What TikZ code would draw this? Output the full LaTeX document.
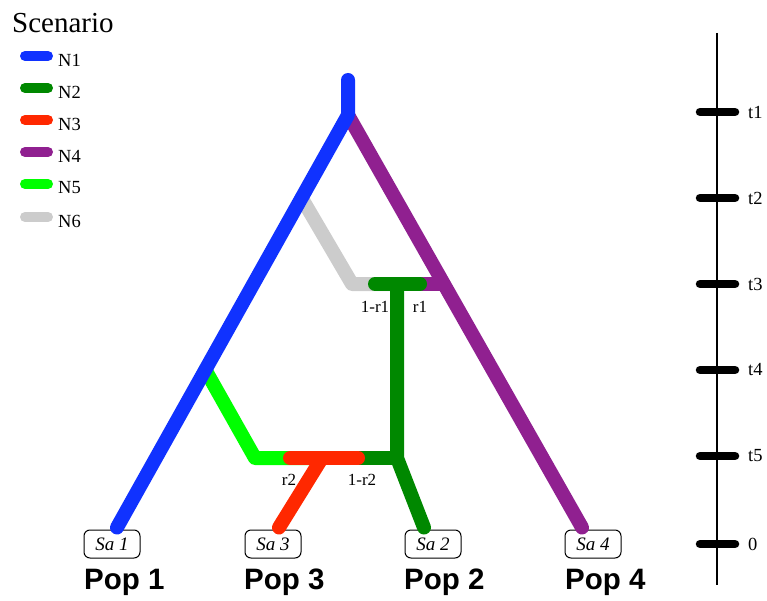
\documentclass[tikz,border=0pt]{standalone}
\usepackage{fontspec}
\setmainfont{Liberation Serif}
\newfontfamily\popfont{Liberation Sans}
\usepackage{tikz}
\usetikzlibrary{calc}
\definecolor{nblue}{RGB}{16,50,255}
\definecolor{ngreen}{RGB}{0,136,0}
\definecolor{nred}{RGB}{255,40,0}
\definecolor{npurple}{RGB}{144,32,144}
\definecolor{nlime}{RGB}{0,255,0}
\definecolor{ngrey}{RGB}{204,204,204}
\tikzset{
  branch/.style={line width=14pt, line cap=round, line join=round},
  legend line/.style={line width=10pt, line cap=round},
  legend text/.style={anchor=west, inner sep=0pt, font=\fontsize{18.5}{21}\selectfont},
  time tick/.style={line width=8.5pt, line cap=round},
  time label/.style={anchor=west, inner sep=0pt, font=\fontsize{18.5}{21}\selectfont},
  sample/.style={draw, line width=1pt, rounded corners=6pt, minimum width=56pt,
    minimum height=28pt, inner sep=0pt, font=\fontsize{19}{22}\selectfont\itshape},
  pop/.style={anchor=base west, inner sep=0pt,
    font=\popfont\bfseries\fontsize{29.5}{33}\selectfont},
  rate/.style={inner sep=0pt, font=\fontsize{17}{20}\selectfont},
}
\begin{document}
\begin{tikzpicture}[x=1pt, y=-1pt]
  \useasboundingbox (0,0) rectangle (767,601);

  % legend
  \node[anchor=base west, inner sep=0pt, font=\fontsize{29}{33}\selectfont] (title) at (12,33) {Scenario};
  \draw[legend line, nblue]   (25,56)  -- (48,56);  \node[legend text] (lN1) at (58,60)  {N1};
  \draw[legend line, ngreen]  (25,88)  -- (48,88);  \node[legend text] (lN2) at (58,92)  {N2};
  \draw[legend line, nred]    (25,120) -- (48,120); \node[legend text] (lN3) at (58,124) {N3};
  \draw[legend line, npurple] (25,152) -- (48,152); \node[legend text] (lN4) at (58,156) {N4};
  \draw[legend line, nlime]   (25,184) -- (48,184); \node[legend text] (lN5) at (58,188) {N5};
  \draw[legend line, ngrey]   (25,217) -- (48,217); \node[legend text] (lN6) at (58,221) {N6};

  % samples and populations
  \node[sample] (sa1) at (112,544) {Sa 1};
  \node[sample] (sa3) at (273,544) {Sa 3};
  \node[sample] (sa2) at (433,544) {Sa 2};
  \node[sample] (sa4) at (593,544) {Sa 4};
  \node[pop] (pop1) at (84,589)  {Pop 1};
  \node[pop] (pop3) at (244,589) {Pop 3};
  \node[pop] (pop2) at (404,589) {Pop 2};
  \node[pop] (pop4) at (565,589) {Pop 4};

  % tree points
  \coordinate (root)  at (348,80);
  \coordinate (split) at (348,115);
  \coordinate (end1)  at ($(sa1.north)+(5,-2)$);
  \coordinate (end3)  at ($(sa3.north)+(6,-2)$);
  \coordinate (end2)  at ($(sa2.north)+(-9,-2)$);
  \coordinate (end4)  at ($(sa4.north)+(-11,-2)$);
  \coordinate (b2)    at (301.6,198);
  \coordinate (b4)    at (205.4,370);
  \coordinate (p3)    at (443.3,284);
  \coordinate (g3)    at (352,284);
  \coordinate (adm1)  at (397,284);
  \coordinate (l5)    at (255,458);
  \coordinate (adm2)  at (397,458);
  \coordinate (r5)    at (322,458);

  % side branches, drawn under the main ones
  \draw[branch, ngrey]   (b2) -- (g3) -- (adm1);
  \draw[branch, npurple] (adm1) -- (p3);
  \draw[branch, nlime]   (b4) -- (l5) -- (r5);
  \draw[branch, ngreen]  (adm2) -- (r5);
  \draw[branch, npurple] (split) -- (end4);
  \draw[branch, nblue]   (root) -- (split) -- (end1);
  \draw[branch, ngreen]  (375,284) -- (420,284);
  \draw[branch, ngreen]  (adm1) -- (adm2) -- (end2);
  \draw[branch, nred]    (290,458) -- (358,458);
  \draw[branch, nred]    (r5) -- (end3);

  % admixture rates
  \node[rate] (q1) at (375,307) {1-r1};
  \node[rate] (r1) at (420,307) {r1};
  \node[rate] (r2) at (289,480) {r2};
  \node[rate] (q2) at (362,480) {1-r2};

  % time axis
  \draw[line width=1.5pt] (717,33) -- (717,585);
  \draw[time tick] (700,112) -- (735,112); \node[time label] (t1) at (748,112) {t1};
  \draw[time tick] (700,198) -- (735,198); \node[time label] (t2) at (748,198) {t2};
  \draw[time tick] (700,284) -- (735,284); \node[time label] (t3) at (748,284) {t3};
  \draw[time tick] (700,370) -- (735,370); \node[time label] (t4) at (748,370) {t4};
  \draw[time tick] (700,456) -- (735,456); \node[time label] (t5) at (748,456) {t5};
  \draw[time tick] (700,544) -- (735,544); \node[time label] (t0) at (748,544) {0};
\end{tikzpicture}
\end{document}
